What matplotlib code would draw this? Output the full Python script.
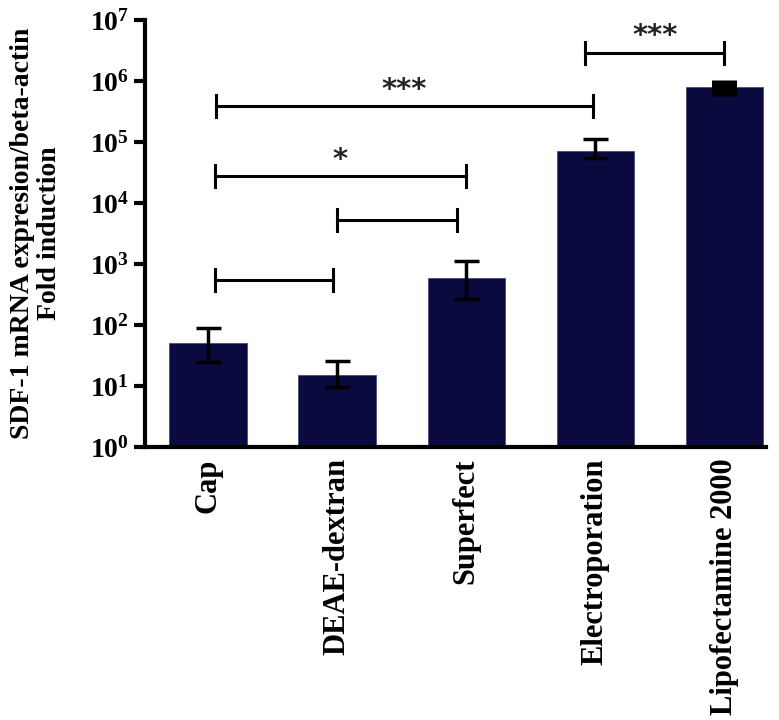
import matplotlib
matplotlib.use('Agg')
import matplotlib.pyplot as plt

plt.rcParams['font.family'] = 'Liberation Serif'
plt.rcParams['font.weight'] = 'bold'
plt.rcParams['mathtext.fontset'] = 'custom'
plt.rcParams['mathtext.rm'] = 'Liberation Serif:bold'
plt.rcParams['mathtext.bf'] = 'Liberation Serif:bold'
plt.rcParams['mathtext.default'] = 'rm'

# data
groups = ['Cap', 'DEAE-dextran', 'Superfect', 'Electroporation', 'Lipofectamine 2000']
means = [51, 15, 600, 72000, 810000]
err_low = [25, 9.7, 267, 56000, 580000]
err_high = [89, 26, 1130, 112000, 1040000]

# significance brackets: (x start, x end, height, label)
brk_x0 = [0.05, 1.0, 0.05, 0.06, 2.92]
brk_x1 = [0.97, 1.93, 2.0, 2.98, 4.0]
brk_y = [545, 5250, 27700, 390000, 2.9e6]
brk_txt = ['', '', '*', '***', '***']

bar_color = '#0b0a3e'

fig = plt.figure(figsize=(7.79, 7.2), dpi=100)
ax = fig.add_axes([0.186, 0.379, 0.797, 0.593])

x = list(range(len(groups)))
ax.bar(x, means, width=0.6, color=bar_color, edgecolor='#4a4a7a', linewidth=0.6, zorder=2)

lo = [m - l for m, l in zip(means, err_low)]
hi = [h - m for m, h in zip(means, err_high)]
ax.errorbar(x[:-1], means[:-1], yerr=[lo[:-1], hi[:-1]], fmt='none', ecolor='black',
            elinewidth=2.5, capsize=9, capthick=2.5, zorder=3)
# last bar: error range is tiny on this scale, drawn as a thick block
ax.errorbar(x[-1:], means[-1:], yerr=[lo[-1:], hi[-1:]], fmt='none', ecolor='black',
            elinewidth=18, capsize=0, zorder=3)

for x0, x1, y, t in zip(brk_x0, brk_x1, brk_y, brk_txt):
    ax.plot([x0, x1], [y, y], color='black', lw=2.2, zorder=3)
    for xe in (x0, x1):
        ax.plot([xe, xe], [y / 1.5, y * 1.5], color='black', lw=2.2, zorder=3)
    if t:
        ax.text((x0 + x1) / 2, y * 1.1, t, ha='center', va='bottom', fontsize=21,
                family='DejaVu Sans', fontweight='bold', color='#222222')

ax.set_yscale('log')
ax.set_ylim(1, 1e7)
ax.set_xlim(-0.49, 4.32)
ax.set_yticks([10 ** i for i in range(8)])
ax.yaxis.set_minor_locator(matplotlib.ticker.NullLocator())

ax.set_xticks(x)
ax.set_xticklabels(groups, rotation=90, fontsize=22, fontweight='bold')
ax.tick_params(axis='y', labelsize=20, width=3, length=8, direction='out')
ax.tick_params(axis='x', length=0, pad=8)

for s in ['top', 'right']:
    ax.spines[s].set_visible(False)
for s in ['left', 'bottom']:
    ax.spines[s].set_linewidth(3)

ax.set_ylabel('SDF-1 mRNA expresion/beta-actin\nFold induction', fontsize=20,
              fontweight='bold', labelpad=20, linespacing=1.1)

fig.savefig('out.png', dpi=100)
